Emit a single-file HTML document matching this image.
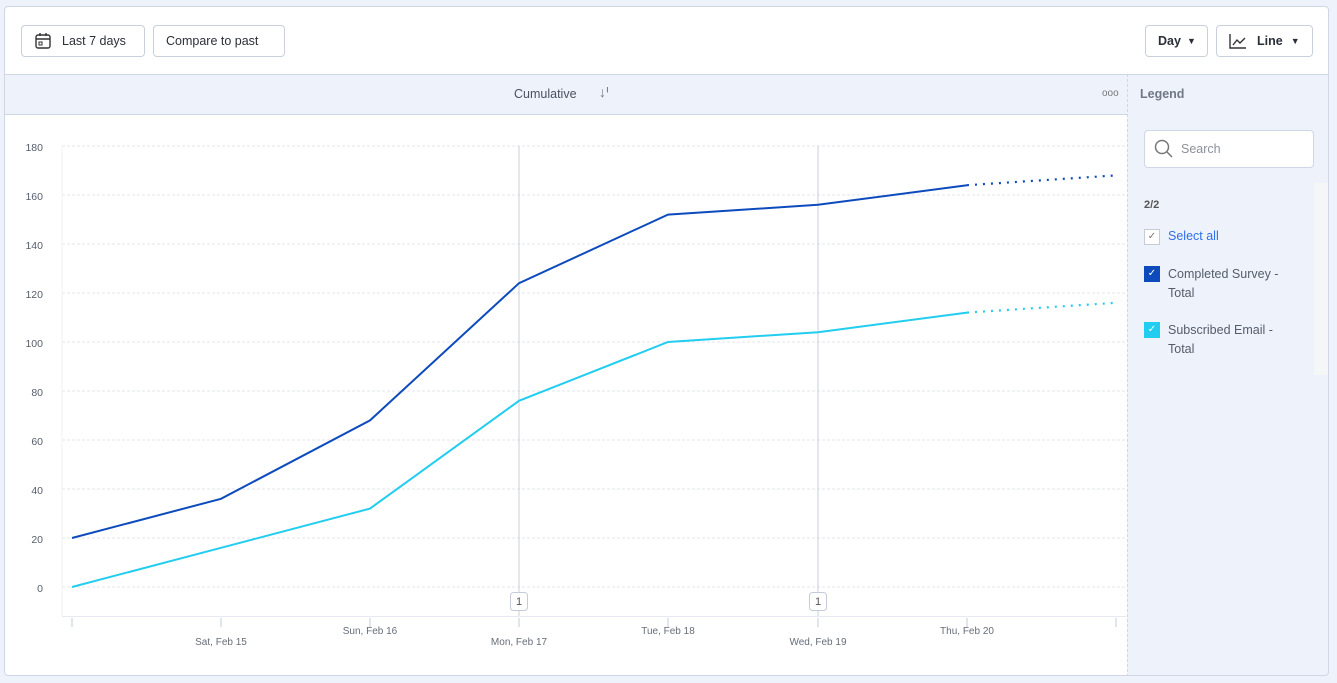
<!DOCTYPE html>
<html><head><meta charset="utf-8"><style>
*{box-sizing:border-box}
body{margin:0;width:1337px;height:683px;background:#eef2fa;font-family:"Liberation Sans",sans-serif;position:relative;overflow:hidden}
.card{position:absolute;left:4px;top:6px;width:1325px;height:670px;background:#fff;border:1px solid #cfd6e4;border-radius:4px;overflow:hidden}
.btn{position:absolute;top:18px;height:32px;border:1px solid #c9d0dc;border-radius:4px;font-size:12.5px;color:#2b2f38;display:flex;align-items:center;padding:0 12px;background:#fff}
.hdr{position:absolute;left:0;top:67px;width:1123px;height:41px;background:#eef2fb;border-top:1px solid #cfd6e4;border-bottom:1px solid #cfd6e4}
.leg{position:absolute;left:1122px;top:67px;width:203px;height:603px;background:#eef2fa;border-left:1px dashed #cfd6e4;border-top:1px solid #cfd6e4}
.t{font-size:12.5px;color:#555d6b}
</style></head><body>
<div class="card">
<div class="btn" style="left:16px;width:124px"><svg width="18" height="18" viewBox="0 0 18 18" style="margin-right:10px"><rect x="2" y="3" width="14" height="13" rx="2" fill="none" stroke="#333" stroke-width="1.4"/><line x1="2" y1="7" x2="16" y2="7" stroke="#333" stroke-width="1.4"/><line x1="6" y1="1" x2="6" y2="4" stroke="#333" stroke-width="1.4"/><line x1="12" y1="1" x2="12" y2="4" stroke="#333" stroke-width="1.4"/><rect x="5" y="10" width="3" height="3" fill="none" stroke="#333"/></svg>Last 7 days</div>
<div class="btn" style="left:148px;width:132px">Compare to past</div>
<div class="btn" style="left:1140px;width:63px;font-weight:bold">Day <span style="font-size:9px;margin-left:6px">▼</span></div>
<div class="btn" style="left:1211px;width:97px;font-weight:bold"><svg width="18" height="16" style="margin-right:10px"><polyline points="1,1 1,15 17,15" fill="none" stroke="#333" stroke-width="1.4"/><polyline points="4,12 8,7 11,10 16,5" fill="none" stroke="#333" stroke-width="1.4"/></svg>Line <span style="font-size:9px;margin-left:8px">▼</span></div>
<div class="hdr"><span style="position:absolute;left:509px;top:12px;font-size:12.5px;color:#4a5160">Cumulative</span><span style="position:absolute;left:594px;top:9px;font-size:14px;color:#777">↓ᑊ</span><span style="position:absolute;left:1097px;top:13px;font-size:10px;color:#777;letter-spacing:0px">ooo</span></div>
<div class="leg">
<div style="position:absolute;left:12px;top:12px;font-size:12.5px;font-weight:bold;color:#707887">Legend</div>
<div style="position:absolute;left:16px;top:55px;width:170px;height:38px;background:#fff;border:1px solid #cfd6e4;border-radius:4px"><svg width="20" height="20" style="position:absolute;left:9px;top:8px"><circle cx="8" cy="8" r="6.5" fill="none" stroke="#777" stroke-width="1.5"/><line x1="13" y1="13" x2="18" y2="18" stroke="#777" stroke-width="1.5"/></svg><span style="position:absolute;left:36px;top:11px;font-size:12.5px;color:#8a909c">Search</span></div>
<div style="position:absolute;left:186px;top:108px;width:14px;height:192px;background:#f5f6f8"></div>
<div style="position:absolute;left:16px;top:124px;font-size:11px;font-weight:bold;color:#555">2/2</div>
<div style="position:absolute;left:16px;top:154px;width:16px;height:16px;border:1px solid #c5ccd8;background:#fff;font-size:10px;color:#777;text-align:center;line-height:14px">✓</div>
<div style="position:absolute;left:40px;top:154px;font-size:12.5px;color:#2f6fe8">Select all</div>
<div style="position:absolute;left:16px;top:191px;width:16px;height:16px;background:#0d4bbd;font-size:10px;color:#fff;text-align:center;line-height:16px">✓</div>
<div class="t" style="position:absolute;left:40px;top:190px;line-height:19px">Completed Survey -<br>Total</div>
<div style="position:absolute;left:16px;top:247px;width:16px;height:16px;background:#22cdef;font-size:10px;color:#fff;text-align:center;line-height:16px">✓</div>
<div class="t" style="position:absolute;left:40px;top:246px;line-height:19px">Subscribed Email -<br>Total</div>
</div>
</div>
<svg width="1337" height="683" style="position:absolute;left:0;top:0" font-family="Liberation Sans, sans-serif">
<g stroke="#e3e6ec" stroke-dasharray="3,2">
<line x1="62" y1="146" x2="1126" y2="146"/><line x1="62" y1="195" x2="1126" y2="195"/><line x1="62" y1="244" x2="1126" y2="244"/><line x1="62" y1="293" x2="1126" y2="293"/><line x1="62" y1="342" x2="1126" y2="342"/><line x1="62" y1="391" x2="1126" y2="391"/><line x1="62" y1="440" x2="1126" y2="440"/><line x1="62" y1="489" x2="1126" y2="489"/><line x1="62" y1="538" x2="1126" y2="538"/><line x1="62" y1="587" x2="1126" y2="587"/>
</g>
<line x1="62" y1="146" x2="62" y2="616" stroke="#eef0f4"/>
<line x1="62" y1="616.5" x2="1126" y2="616.5" stroke="#e6e9ef"/>
<g font-size="10.5" fill="#555d6b" text-anchor="end">
<text x="43" y="151">180</text><text x="43" y="200">160</text><text x="43" y="249">140</text><text x="43" y="298">120</text><text x="43" y="347">100</text><text x="43" y="396">80</text><text x="43" y="445">60</text><text x="43" y="494">40</text><text x="43" y="543">20</text><text x="43" y="592">0</text>
</g>
<line x1="519" y1="146" x2="519" y2="616" stroke="#c8d0da"/><line x1="818" y1="146" x2="818" y2="616" stroke="#c8d0da"/>
<g stroke="#c3ccd8"><line x1="72" y1="618" x2="72" y2="627"/><line x1="221" y1="618" x2="221" y2="627"/><line x1="370" y1="618" x2="370" y2="627"/><line x1="519" y1="618" x2="519" y2="627"/><line x1="668" y1="618" x2="668" y2="627"/><line x1="818" y1="618" x2="818" y2="627"/><line x1="967" y1="618" x2="967" y2="627"/><line x1="1116" y1="618" x2="1116" y2="627"/></g>
<g font-size="10" fill="#666d7a" text-anchor="middle">
<text x="221" y="645">Sat, Feb 15</text><text x="370" y="634">Sun, Feb 16</text><text x="519" y="645">Mon, Feb 17</text><text x="668" y="634">Tue, Feb 18</text><text x="818" y="645">Wed, Feb 19</text><text x="967" y="634">Thu, Feb 20</text>
</g>
<g><rect x="510.5" y="592.5" width="17" height="18" rx="3" fill="#fff" stroke="#c3ccd8"/><text x="519" y="605" font-size="11" fill="#555" text-anchor="middle">1</text>
<rect x="809.5" y="592.5" width="17" height="18" rx="3" fill="#fff" stroke="#c3ccd8"/><text x="818" y="605" font-size="11" fill="#555" text-anchor="middle">1</text></g>
<polyline points="72,538 221,498.8 370,420.4 519,283.2 668,214.6 818,204.8 967,185.2" fill="none" stroke="#0d4bbd" stroke-width="2"/>
<line x1="967" y1="185.2" x2="1116" y2="175.4" stroke="#0d4bbd" stroke-width="2.2" stroke-dasharray="2,6"/>
<polyline points="72,587 221,547.8 370,508.6 519,400.8 668,342 818,332.2 967,312.6" fill="none" stroke="#22cdef" stroke-width="2"/>
<line x1="967" y1="312.6" x2="1116" y2="302.8" stroke="#22cdef" stroke-width="2.2" stroke-dasharray="2,6"/>
</svg>
</body></html>
